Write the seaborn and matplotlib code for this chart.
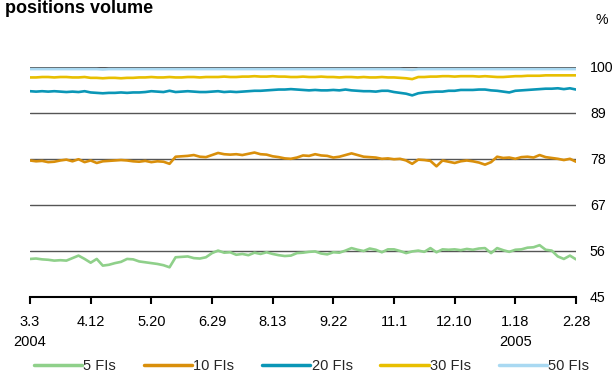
import numpy as np
import pandas as pd
import matplotlib
matplotlib.use("Agg")
import matplotlib.pyplot as plt
import seaborn as sns

# Observation dates shown on the axis (every 10th observation)
tick_labels = ["3.3\n2004", "4.12", "5.20", "6.29", "8.13", "9.22",
               "11.1", "12.10", "1.18\n2005", "2.28"]

series_names = ["5 FIs", "10 FIs", "20 FIs", "30 FIs", "50 FIs"]

fis_5 = [54.0, 54.1, 53.9, 53.8, 53.6, 53.7, 53.6, 54.2, 54.8, 54.0,
         53.1, 54.0, 52.4, 52.6, 53.0, 53.3, 54.0, 53.9, 53.4, 53.2,
         53.0, 52.8, 52.5, 52.0, 54.4, 54.5, 54.6, 54.2, 54.1, 54.4,
         55.4, 56.0, 55.5, 55.6, 55.0, 55.2, 54.9, 55.5, 55.2, 55.6,
         55.2, 54.9, 54.7, 54.8, 55.4, 55.5, 55.7, 55.8, 55.3, 55.1,
         55.6, 55.5, 56.0, 56.6, 56.2, 55.9, 56.5, 56.2, 55.6, 56.3,
         56.3, 55.9, 55.4, 55.8, 56.0, 55.7, 56.6, 55.6, 56.3, 56.2,
         56.3, 56.1, 56.4, 56.2, 56.5, 56.6, 55.4, 56.6, 56.1, 55.7,
         56.2, 56.3, 56.7, 56.8, 57.3, 56.2, 56.0, 54.6, 54.0, 54.8,
         53.9]

fis_10 = [77.6, 77.4, 77.5, 77.2, 77.3, 77.6, 77.8, 77.4, 77.9, 77.2,
          77.6, 77.0, 77.4, 77.5, 77.6, 77.7, 77.6, 77.4, 77.3, 77.5,
          77.2, 77.4, 77.3, 76.8, 78.5, 78.6, 78.7, 78.9, 78.5, 78.4,
          78.9, 79.4, 79.1, 79.0, 79.1, 78.9, 79.2, 79.5, 79.1, 79.0,
          78.6, 78.4, 78.1, 78.0, 78.3, 78.8, 78.7, 79.1, 78.8, 78.7,
          78.3, 78.5, 78.9, 79.3, 78.9, 78.5, 78.4, 78.3, 78.0, 78.1,
          77.9, 78.0, 77.6, 76.8, 77.8, 77.7, 77.5, 76.2, 77.6, 77.3,
          77.0, 77.4, 77.6, 77.4, 77.1, 76.6, 77.2, 78.5, 78.2, 78.3,
          78.0, 78.4, 78.5, 78.3, 78.9, 78.4, 78.2, 78.0, 77.7, 78.0,
          77.3]

fis_20 = [94.2, 94.1, 94.2, 94.1, 94.2, 94.1, 94.0, 94.1, 94.0, 94.2,
          93.9, 93.8, 93.7, 93.8, 93.8, 93.9, 93.8, 93.9, 93.9, 94.0,
          94.2, 94.1, 94.0, 94.3, 94.0, 94.1, 94.2, 94.1, 94.0, 94.0,
          94.1, 94.2, 94.0, 94.1, 94.0, 94.1, 94.2, 94.3, 94.3, 94.4,
          94.5, 94.6, 94.6, 94.7, 94.6, 94.5, 94.4, 94.5, 94.4, 94.4,
          94.5, 94.4, 94.6, 94.4, 94.3, 94.2, 94.2, 94.1, 94.3, 94.3,
          94.0, 93.8, 93.6, 93.2, 93.7, 93.9, 94.0, 94.1, 94.1, 94.3,
          94.3, 94.5, 94.5, 94.5, 94.6, 94.6, 94.4, 94.3, 94.1, 93.9,
          94.3, 94.4, 94.5, 94.6, 94.7, 94.8, 94.8, 94.9, 94.7, 94.9,
          94.6]

fis_30 = [97.5, 97.5, 97.6, 97.6, 97.5, 97.6, 97.6, 97.5, 97.5, 97.6,
          97.4, 97.4, 97.3, 97.4, 97.4, 97.3, 97.4, 97.4, 97.5, 97.5,
          97.6, 97.5, 97.5, 97.6, 97.5, 97.5, 97.6, 97.6, 97.5, 97.6,
          97.6, 97.6, 97.7, 97.6, 97.6, 97.7, 97.7, 97.8, 97.7, 97.7,
          97.8, 97.7, 97.7, 97.6, 97.6, 97.7, 97.6, 97.6, 97.7, 97.6,
          97.6, 97.5, 97.6, 97.6, 97.5, 97.6, 97.5, 97.5, 97.6, 97.5,
          97.5, 97.4, 97.3, 97.1, 97.6, 97.6, 97.7, 97.7, 97.8, 97.8,
          97.7, 97.8, 97.8, 97.8, 97.7, 97.8, 97.7, 97.6, 97.6, 97.7,
          97.8, 97.8, 97.9, 97.9, 97.9, 98.0, 98.0, 98.0, 98.0, 98.0,
          98.0]

fis_50 = [99.5, 99.5, 99.5, 99.5, 99.5, 99.5, 99.5, 99.5, 99.5, 99.5,
          99.5, 99.5, 99.4, 99.5, 99.5, 99.5, 99.5, 99.5, 99.5, 99.5,
          99.5, 99.5, 99.5, 99.5, 99.5, 99.5, 99.5, 99.5, 99.5, 99.5,
          99.5, 99.5, 99.5, 99.5, 99.5, 99.5, 99.5, 99.5, 99.5, 99.5,
          99.5, 99.5, 99.5, 99.5, 99.5, 99.5, 99.5, 99.5, 99.5, 99.5,
          99.5, 99.5, 99.5, 99.5, 99.5, 99.5, 99.5, 99.5, 99.5, 99.5,
          99.5, 99.5, 99.4, 99.3, 99.5, 99.5, 99.5, 99.5, 99.5, 99.5,
          99.5, 99.5, 99.5, 99.5, 99.5, 99.5, 99.5, 99.5, 99.5, 99.5,
          99.5, 99.5, 99.5, 99.5, 99.5, 99.5, 99.5, 99.5, 99.5, 99.5,
          99.5]

y_ticks = [45, 56, 67, 78, 89, 100]

colors = ["#8fd08a", "#d98f0b", "#0a96b6", "#e8bf00", "#a9d9f2"]

values = [fis_5, fis_10, fis_20, fis_30, fis_50]
obs = np.arange(len(fis_5))
df = pd.concat(
    [pd.DataFrame({"obs": obs, "value": v, "series": name})
     for name, v in zip(series_names, values)],
    ignore_index=True,
)

sns.set_theme(style="white")
plt.rcParams["font.family"] = ["Liberation Sans", "DejaVu Sans"]

fig = plt.figure(figsize=(6.15, 3.73), dpi=100)
ax = fig.add_axes([30 / 615, 1 - 296.5 / 373, 546 / 615, 229.5 / 373])

# horizontal reference lines
for yv in y_ticks[1:]:
    ax.axhline(yv, color="#555555", lw=1.0, zorder=1)

sns.lineplot(data=df, x="obs", y="value", hue="series",
             hue_order=series_names, palette=colors, linewidth=1.9,
             ax=ax, zorder=3)
# the 50 FIs line is drawn a little wider
for line in ax.get_lines():
    if line.get_label() == "50 FIs":
        line.set_linewidth(3.0)

ax.set_xlim(0, 90)
ax.set_ylim(45, 100)
ax.set_xlabel("")
ax.set_ylabel("")

for side in ["top", "left", "right"]:
    ax.spines[side].set_visible(False)
ax.spines["bottom"].set_color("black")
ax.spines["bottom"].set_linewidth(1.5)

ax.set_xticks(np.arange(0, 91, 10))
ax.set_xticklabels(tick_labels, fontsize=10.5, linespacing=1.55,
                   va="top")
ax.tick_params(axis="x", direction="out", length=5, width=1.5,
               color="black", pad=8, bottom=True)

ax.yaxis.tick_right()
ax.set_yticks(y_ticks)
ax.set_yticklabels([str(t) for t in y_ticks], fontsize=10.2)
ax.tick_params(axis="y", length=0, pad=10, right=False)
for lbl in ax.get_yticklabels():
    lbl.set_color("black")
for lbl in ax.get_xticklabels():
    lbl.set_color("black")

fig.text(595 / 615, 1 - 20 / 373, "%", fontsize=10.2, color="black",
         ha="left", va="center")
fig.text(5 / 615, 1 - 13 / 373, "positions volume", fontsize=13,
         fontweight="bold", color="black", ha="left", va="baseline")

sns.move_legend(ax, "lower left", bbox_to_anchor=(28 / 615, -0.016),
                bbox_transform=fig.transFigure, ncol=5, frameon=False,
                title=None, fontsize=10.5, handlelength=3.3,
                handletextpad=0.1, columnspacing=1.9, borderaxespad=0)
leg = ax.get_legend()
for h in leg.get_lines():
    h.set_linewidth(2.5)

fig.savefig("out.png", dpi=100)
